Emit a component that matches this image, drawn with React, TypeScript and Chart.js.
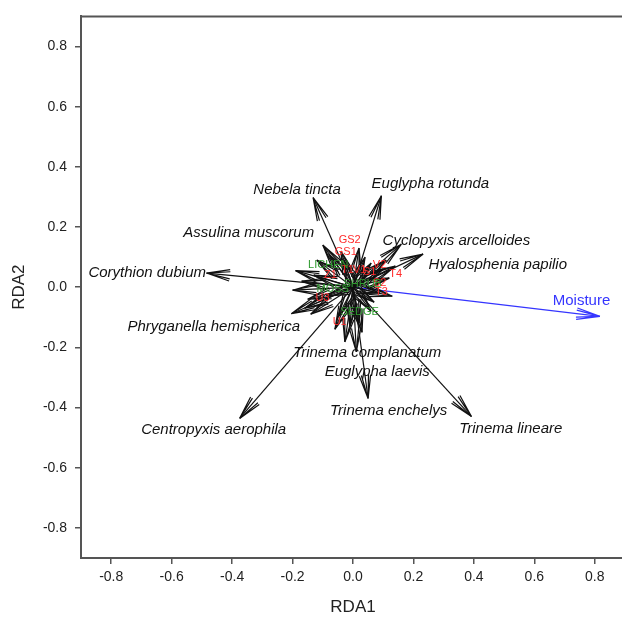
import React, { useEffect, useRef } from "react";
import { Chart, registerables } from "chart.js";
Chart.register(...registerables);

// Species arrows (RDA1, RDA2 scores)
const speciesNames = [
  "Nebela tincta",
  "Euglypha rotunda",
  "Assulina muscorum",
  "Cyclopyxis arcelloides",
  "Hyalosphenia papilio",
  "Corythion dubium",
  "Phryganella hemispherica",
  "Trinema complanatum",
  "Euglypha laevis",
  "Trinema enchelys",
  "Centropyxis aerophila",
  "Trinema lineare",
];
const speciesX = [-0.132, 0.094, -0.1, 0.16, 0.232, -0.485, -0.204, -0.027, 0.011, 0.05, -0.375, 0.392];
const speciesY = [0.298, 0.304, 0.14, 0.143, 0.11, 0.047, -0.088, -0.182, -0.215, -0.37, -0.436, -0.43];
const speciesLabelX = [-0.185, 0.256, -0.345, 0.342, 0.479, -0.681, -0.461, 0.047, 0.08, 0.118, -0.461, 0.522];
const speciesLabelY = [0.325, 0.344, 0.18, 0.155, 0.076, 0.047, -0.132, -0.218, -0.281, -0.412, -0.474, -0.471];

// Unlabelled short species arrows in the centre
const minorX = [-0.19, -0.17, -0.15, -0.16, -0.08, -0.04, 0.02, 0.06, 0.1, 0.12, 0.09, 0.06, 0.02, -0.01, -0.05, -0.09, 0.14, -0.12, -0.2, -0.13, 0.11, 0.07, -0.03, 0.03, 0.13, -0.06, 0.04, -0.14];
const minorY = [0.055, 0.02, -0.04, -0.07, 0.11, 0.12, 0.13, 0.08, 0.06, 0.03, -0.02, -0.08, -0.12, -0.13, -0.1, -0.03, 0.07, 0.09, -0.01, 0.04, 0.09, -0.05, 0.09, -0.15, -0.03, -0.14, 0.1, -0.09];

// Environmental variable
const envNames = ["Moisture"];
const envX = [0.817];
const envY = [-0.097];
const envLabelX = [0.756];
const envLabelY = [-0.047];

// Sites (red)
const siteNames = ["GS2", "GS1", "Z1", "T1", "V1", "S1", "V2", "T4", "T3", "S2", "U3", "U1"];
const siteX = [-0.011, -0.024, -0.075, -0.018, 0.022, 0.055, 0.088, 0.141, 0.094, 0.088, -0.101, -0.044];
const siteY = [0.158, 0.116, 0.039, 0.056, 0.056, 0.05, 0.074, 0.044, -0.017, 0.013, -0.036, -0.116];

// Covariables (green)
const covNames = ["LICHEN", "SEDGE", "SHRUB", "MOSS"];
const covX = [-0.082, 0.022, 0.032, -0.067];
const covY = [0.074, -0.083, 0.01, -0.007];

const tickValues = [-0.8, -0.6, -0.4, -0.2, 0.0, 0.2, 0.4, 0.6, 0.8];
const axisMin = -0.9;
const axisMax = 0.9;

const FONT = "'Liberation Sans', Arial, sans-serif";

export default function App() {
  const ref = useRef<HTMLCanvasElement | null>(null);

  useEffect(() => {
    document.body.style.margin = "0";
    document.body.style.overflow = "hidden";
    const canvas = ref.current;
    if (!canvas) return;

    const datasets: any[] = [];
    speciesX.forEach((x, i) => {
      datasets.push({
        data: [{ x: 0, y: 0 }, { x, y: speciesY[i] }],
        showLine: true,
        borderColor: "#111",
        borderWidth: 1.2,
        pointRadius: 0,
        arrow: true,
      });
    });
    minorX.forEach((x, i) => {
      datasets.push({
        data: [{ x: 0, y: 0 }, { x, y: minorY[i] }],
        showLine: true,
        borderColor: "#111",
        borderWidth: 1.2,
        pointRadius: 0,
        arrow: true,
      });
    });
    envX.forEach((x, i) => {
      datasets.push({
        data: [{ x: 0, y: 0 }, { x, y: envY[i] }],
        showLine: true,
        borderColor: "#3535ff",
        borderWidth: 1.3,
        pointRadius: 0,
        arrow: true,
      });
    });

    const arrowPlugin = {
      id: "arrows",
      afterDatasetsDraw(chart: any) {
        const ctx = chart.ctx;
        chart.data.datasets.forEach((ds: any, i: number) => {
          if (!ds.arrow) return;
          const meta = chart.getDatasetMeta(i);
          const p0 = meta.data[0];
          const p1 = meta.data[1];
          const ang = Math.atan2(p1.y - p0.y, p1.x - p0.x);
          const L = 24;
          ctx.save();
          ctx.strokeStyle = ds.borderColor;
          ctx.lineWidth = ds.borderWidth;
          ctx.beginPath();
          [0.15, 0.24].forEach((a) => {
            [-1, 1].forEach((s) => {
              const t = ang + Math.PI + s * a;
              ctx.moveTo(p1.x, p1.y);
              ctx.lineTo(p1.x + L * Math.cos(t), p1.y + L * Math.sin(t));
            });
          });
          ctx.stroke();
          ctx.restore();
        });
      },
      afterDraw(chart: any) {
        const ctx = chart.ctx;
        const xs = chart.scales.x;
        const ys = chart.scales.y;
        const ca = chart.chartArea;
        ctx.save();
        // top and right frame
        ctx.strokeStyle = "#555";
        ctx.lineWidth = 2;
        ctx.beginPath();
        ctx.moveTo(ca.left, ca.top);
        ctx.lineTo(ca.right, ca.top);
        ctx.lineTo(ca.right, ca.bottom);
        ctx.stroke();

        ctx.textAlign = "center";
        ctx.textBaseline = "middle";
        // species labels
        ctx.fillStyle = "#111";
        ctx.font = `italic 15px ${FONT}`;
        speciesNames.forEach((n, i) => {
          ctx.fillText(n, xs.getPixelForValue(speciesLabelX[i]), ys.getPixelForValue(speciesLabelY[i]));
        });
        // env labels
        ctx.fillStyle = "#3535ff";
        ctx.font = `15px ${FONT}`;
        envNames.forEach((n, i) => {
          ctx.fillText(n, xs.getPixelForValue(envLabelX[i]), ys.getPixelForValue(envLabelY[i]));
        });
        // site labels
        ctx.font = `11px ${FONT}`;
        ctx.fillStyle = "#ff2a2a";
        siteNames.forEach((n, i) => {
          ctx.fillText(n, xs.getPixelForValue(siteX[i]), ys.getPixelForValue(siteY[i]));
        });
        ctx.fillStyle = "#2f9a2f";
        covNames.forEach((n, i) => {
          ctx.fillText(n, xs.getPixelForValue(covX[i]), ys.getPixelForValue(covY[i]));
        });
        // axis titles
        ctx.fillStyle = "#222";
        ctx.font = `17px ${FONT}`;
        ctx.fillText("RDA1", xs.getPixelForValue(0), 607);
        ctx.save();
        ctx.translate(19, ys.getPixelForValue(0));
        ctx.rotate(-Math.PI / 2);
        ctx.fillText("RDA2", 0, 0);
        ctx.restore();
        ctx.restore();
      },
    };

    const setTicks = (scale: any) => {
      scale.ticks = tickValues.map((v) => ({ value: v }));
    };

    const chart = new Chart(canvas, {
      type: "scatter",
      data: { datasets },
      options: {
        animation: false,
        responsive: false,
        devicePixelRatio: 1,
        layout: { padding: { top: 13, right: 15, left: 0, bottom: 0 } },
        plugins: { legend: { display: false }, tooltip: { enabled: false } },
        scales: {
          x: {
            type: "linear",
            min: axisMin,
            max: axisMax,
            afterBuildTicks: setTicks,
            afterFit: (s: any) => {
              s.height = 62;
            },
            grid: { drawOnChartArea: false, drawTicks: true, tickLength: 6, color: "#555", lineWidth: 1.5 },
            border: { display: true, color: "#555", width: 2 },
            ticks: {
              color: "#222",
              font: { family: FONT, size: 14 },
              padding: 5,
              maxRotation: 0,
              autoSkip: false,
              callback: (v: any) => Number(v).toFixed(1),
            },
          },
          y: {
            type: "linear",
            min: axisMin,
            max: axisMax,
            afterBuildTicks: setTicks,
            afterFit: (s: any) => {
              s.width = 81;
            },
            grid: { drawOnChartArea: false, drawTicks: true, tickLength: 6, color: "#555", lineWidth: 1.5 },
            border: { display: true, color: "#555", width: 2 },
            ticks: {
              color: "#222",
              font: { family: FONT, size: 14 },
              padding: 8,
              autoSkip: false,
              callback: (v: any) => Number(v).toFixed(1),
            },
          },
        },
      } as any,
      plugins: [arrowPlugin],
    });
    return () => chart.destroy();
  }, []);

  return (
    <div style={{ width: 622, height: 620, overflow: "hidden", position: "relative" }}>
      <canvas ref={ref} width={640} height={620} style={{ width: 640, height: 620, display: "block" }} />
    </div>
  );
}
